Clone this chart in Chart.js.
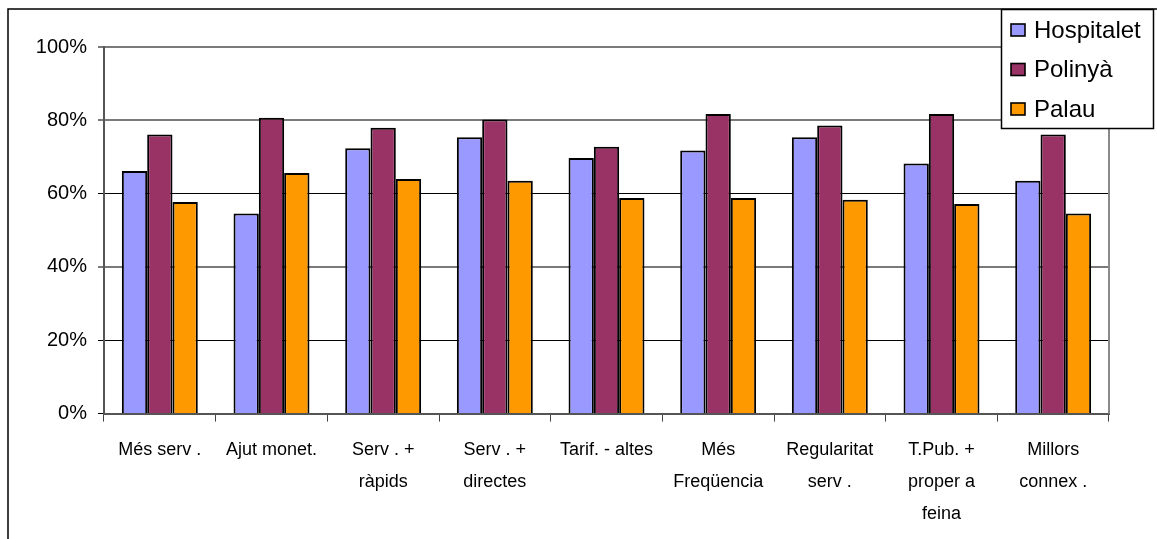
<!DOCTYPE html>
<html>
<head>
<meta charset="utf-8">
<title>Millores del transport públic</title>
<script src="https://cdn.jsdelivr.net/npm/chart.js@4/dist/chart.umd.min.js"></script>
<style>
  html, body { margin: 0; padding: 0; background: #fff; }
  canvas { display: block; }
</style>
</head>
<body>
<canvas id="chart" width="1157" height="539"></canvas>
<script>
// Categories (multi-line labels)
const categories = [
  ['Més serv .'],
  ['Ajut monet.'],
  ['Serv . +', 'ràpids'],
  ['Serv . +', 'directes'],
  ['Tarif. - altes'],
  ['Més', 'Freqüencia'],
  ['Regularitat', 'serv .'],
  ['T.Pub. +', 'proper a', 'feina'],
  ['Millors', 'connex .']
];

// Percentages per town
const hospitalet = [66.2, 54.6, 72.4, 75.4, 69.7, 71.8, 75.4, 68.2, 63.5];
const polinya    = [76.1, 80.7, 78.0, 80.2, 72.8, 81.7, 78.6, 81.7, 76.1];
const palau      = [57.7, 65.6, 64.0, 63.5, 58.8, 58.8, 58.3, 57.2, 54.6];

const seriesNames = ['Hospitalet', 'Polinyà', 'Palau'];
const yTickValues = [0, 20, 40, 60, 80, 100];

const FONT = "'Liberation Sans', Arial, Helvetica, sans-serif";
const COLORS = ['#9999ff', '#993366', '#ff9900'];

// Outer frame and right edge of the plot area
const framePlugin = {
  id: 'frame',
  beforeDatasetsDraw(chart) {
    const { ctx, chartArea } = chart;
    ctx.save();
    ctx.strokeStyle = '#8a8a8a';
    ctx.lineWidth = 2;
    ctx.beginPath();
    ctx.moveTo(chartArea.right, chartArea.top);
    ctx.lineTo(chartArea.right, chartArea.bottom);
    ctx.stroke();
    ctx.restore();
  },
  afterDraw(chart) {
    const { ctx } = chart;
    ctx.save();
    ctx.strokeStyle = '#000';
    ctx.lineWidth = 1.5;
    ctx.beginPath();
    ctx.moveTo(8, chart.height + 2);
    ctx.lineTo(8, 9);
    ctx.lineTo(chart.width + 2, 9);
    ctx.stroke();
    ctx.restore();
  }
};

// Boxed legend that sits over the top-right corner of the plot
const boxLegend = {
  id: 'boxLegend',
  afterDraw(chart) {
    const { ctx } = chart;
    const x = 1001.5, y = 9.5, w = 152, h = 119;
    ctx.save();
    ctx.fillStyle = '#fff';
    ctx.fillRect(x, y, w, h);
    ctx.strokeStyle = '#000';
    ctx.lineWidth = 1.5;
    ctx.strokeRect(x, y, w, h);
    ctx.font = '24px ' + FONT;
    ctx.textBaseline = 'middle';
    ctx.textAlign = 'left';
    chart.data.datasets.forEach((ds, i) => {
      const cy = 30 + i * 39.5;
      ctx.fillStyle = ds.backgroundColor;
      ctx.fillRect(1011, cy - 6, 14, 12);
      ctx.strokeStyle = '#000';
      ctx.lineWidth = 1.6;
      ctx.strokeRect(1011, cy - 6, 14, 12);
      ctx.fillStyle = '#000';
      ctx.fillText(ds.label, 1034, cy + 1);
    });
    ctx.restore();
  }
};

const gridColor = (ctx) => {
  const v = ctx.tick ? ctx.tick.value : 0;
  return (v === 100 || v === 80 || v === 40) ? '#7a7a7a' : '#000';
};
const gridWidth = (ctx) => {
  const v = ctx.tick ? ctx.tick.value : 0;
  return (v === 100 || v === 80 || v === 40) ? 2 : 1;
};

new Chart(document.getElementById('chart'), {
  type: 'bar',
  data: {
    labels: categories,
    datasets: [hospitalet, polinya, palau].map((vals, i) => ({
      label: seriesNames[i],
      data: vals,
      backgroundColor: COLORS[i],
      borderColor: '#000',
      borderWidth: 2,
      borderSkipped: 'bottom',
      categoryPercentage: 0.68,
      barPercentage: 1.0
    }))
  },
  options: {
    responsive: false,
    devicePixelRatio: 1,
    animation: false,
    layout: { padding: { left: 0, right: 48, top: 47, bottom: 0 } },
    plugins: {
      legend: { display: false },
      tooltip: { enabled: false }
    },
    scales: {
      x: {
        offset: true,
        grid: {
          offset: true,
          drawOnChartArea: false,
          drawTicks: true,
          tickLength: 8,
          color: '#444',
          lineWidth: 1
        },
        border: { display: true, color: '#555', width: 2 },
        ticks: {
          color: '#000',
          padding: 12,
          maxRotation: 0,
          autoSkip: false,
          font: { family: FONT, size: 18, lineHeight: 1.78 }
        },
        afterFit(scale) { scale.height = 125.4; }
      },
      y: {
        min: 0,
        max: 100,
        afterBuildTicks(scale) {
          scale.ticks = yTickValues.map(v => ({ value: v }));
        },
        grid: {
          color: gridColor,
          lineWidth: gridWidth,
          tickLength: 6,
          drawTicks: true
        },
        border: { display: true, color: '#555', width: 2 },
        ticks: {
          color: '#000',
          padding: 11,
          font: { family: FONT, size: 20 },
          callback: (v) => v + '%'
        },
        afterFit(scale) { scale.width = 104; }
      }
    }
  },
  plugins: [framePlugin, boxLegend]
});
</script>
</body>
</html>
